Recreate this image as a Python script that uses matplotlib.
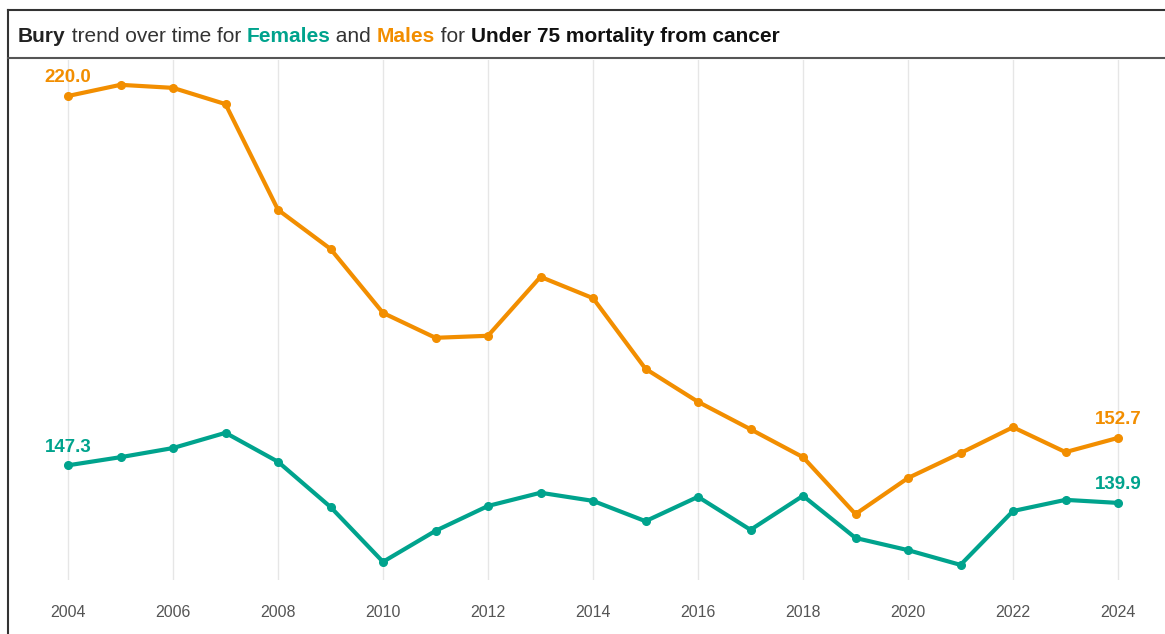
import matplotlib.pyplot as plt
from matplotlib.lines import Line2D

plt.rcParams['font.family'] = ['Liberation Sans', 'DejaVu Sans']

# Data
years = list(range(2004, 2025))
males = [220.0, 222.2, 221.6, 218.4, 197.6, 189.9, 177.3, 172.4, 172.8, 184.4,
         180.2, 166.3, 159.8, 154.4, 148.9, 137.7, 144.8, 149.7, 154.8, 149.9, 152.7]
females = [147.3, 148.9, 150.7, 153.7, 148.0, 139.1, 128.3, 134.4, 139.3, 141.9,
           140.3, 136.3, 141.1, 134.6, 141.3, 133.0, 130.6, 127.7, 138.3, 140.5, 139.9]
tick_years = list(range(2004, 2025, 2))

MALE_COL = '#F28E00'
FEMALE_COL = '#00A38D'

W, H = 1165, 634
fig = plt.figure(figsize=(W / 100, H / 100), dpi=100)

# plot area in pixel terms
ax = fig.add_axes([15 / W, (H - 580) / H, 1150 / W, 520 / H])
ax.set_xlim(2004 - 53 / 52.5, 2004 - 53 / 52.5 + 1150 / 52.5)
ax.set_ylim(220 - (580 - 96) / 5.08, 220 + (96 - 60) / 5.08)

for s in ax.spines.values():
    s.set_visible(False)
ax.set_yticks([])
ax.set_xticks(tick_years)
ax.set_xticklabels([str(y) for y in tick_years], fontsize=11.5, color='#555555')
ax.tick_params(axis='x', length=0, pad=18)
ax.grid(axis='x', color='#e6e6e6', linewidth=1)
ax.set_axisbelow(True)

ax.plot(years, males, color=MALE_COL, lw=3, marker='o', ms=5.5, zorder=3)
ax.plot(years, females, color=FEMALE_COL, lw=3, marker='o', ms=5.5, zorder=3)

for yr, val, col in [(years[0], males[0], MALE_COL), (years[-1], males[-1], MALE_COL),
                     (years[0], females[0], FEMALE_COL), (years[-1], females[-1], FEMALE_COL)]:
    ax.annotate(f"{val:.1f}", (yr, val), xytext=(0, 13), textcoords='offset points',
                ha='center', va='center', fontsize=13.5, fontweight='bold', color=col)

# frame and title separator
fig.add_artist(Line2D([8 / W, 8 / W], [0, 1 - 10 / H], color='#333333', lw=1.5))
fig.add_artist(Line2D([8 / W, 1], [1 - 10 / H, 1 - 10 / H], color='#333333', lw=1.5))
fig.add_artist(Line2D([8 / W, 1], [1 - 58 / H, 1 - 58 / H], color='#555555', lw=1.5))

# multi-coloured title
parts = [("Bury", 'bold', '#222222'),
         (" trend over time for ", 'normal', '#333333'),
         ("Females", 'bold', FEMALE_COL),
         (" and ", 'normal', '#333333'),
         ("Males", 'bold', MALE_COL),
         (" for ", 'normal', '#333333'),
         ("Under 75 mortality from cancer", 'bold', '#111111')]
renderer = fig.canvas.get_renderer()
x = 18
for txt, weight, col in parts:
    t = fig.text(x / W, 1 - 42 / H, txt, fontsize=15, fontweight=weight, color=col,
                 ha='left', va='baseline')
    x += t.get_window_extent(renderer=renderer).width

fig.savefig('out.png', dpi=100)
